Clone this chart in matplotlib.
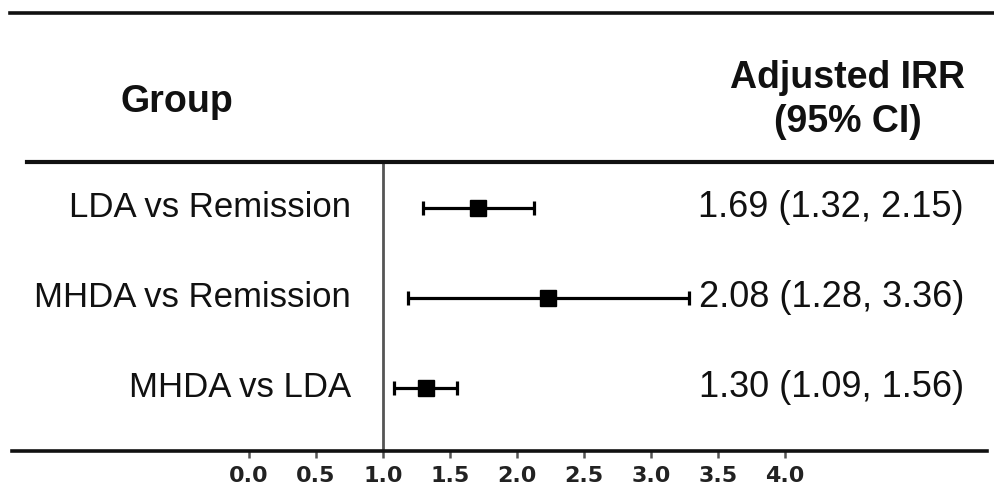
import matplotlib
matplotlib.use("Agg")
import matplotlib.pyplot as plt
from matplotlib.lines import Line2D

groups = ["LDA vs Remission", "MHDA vs Remission", "MHDA vs LDA"]
irr_plot = [1.71, 2.23, 1.32]
ci_low = [1.30, 1.19, 1.08]
ci_high = [2.13, 3.28, 1.55]
irr_text = ["1.69 (1.32, 2.15)", "2.08 (1.28, 3.36)", "1.30 (1.09, 1.56)"]
xticks = [0.0, 0.5, 1.0, 1.5, 2.0, 2.5, 3.0, 3.5, 4.0]
xticklabels = ["0.0", "0.5", "1.0", "1.5", "2.0", "2.5", "3.0", "3.5", "4.0"]

W, H = 994, 487
fig = plt.figure(figsize=(W / 100, H / 100), dpi=100)
plt.rcParams['font.family'] = ['Liberation Sans', 'DejaVu Sans']

def fx(px):
    return px / W

def fy(py):
    return 1 - py / H

# axes spans x pixels 12..987, y pixels 162..451
ax = fig.add_axes([fx(12), fy(451), fx(987) - fx(12), fy(162) - fy(451)])
x0_px, unit_px = 249.0, 134.0
ax.set_xlim((12 - x0_px) / unit_px, (987 - x0_px) / unit_px)
ax.set_ylim(2.7, -0.51)

for s in ["top", "left", "right"]:
    ax.spines[s].set_visible(False)
ax.spines["bottom"].set_linewidth(2.6)
ax.spines["bottom"].set_color("#111111")
ax.set_yticks([])
ax.set_xticks(xticks)
ax.set_xticklabels(xticklabels, fontfamily="DejaVu Sans", fontweight="bold",
                   fontsize=16, color="#222222")
ax.tick_params(axis="x", direction="out", length=5, width=1.8, color="#555555", pad=6)

ax.axvline(1.0, color="#555555", lw=2.0, zorder=1)

ypos = list(range(len(groups)))
xerr = [[m - l for m, l in zip(irr_plot, ci_low)], [h - m for m, h in zip(irr_plot, ci_high)]]
ax.errorbar(irr_plot, ypos, xerr=xerr, fmt="s", color="black", ms=11, lw=2.3,
            capsize=4.8, capthick=2.3, zorder=3)

for i, (g, t) in enumerate(zip(groups, irr_text)):
    yp = ax.transData.transform((0, i))[1] / H
    fig.text(fx(351), yp, g, ha="right", va="center", fontsize=25, color="#111111")
    fig.text(fx(964), yp, t, ha="right", va="center", fontsize=26, color="#111111")

fig.text(fx(177), fy(102), "Group", ha="center", va="center", fontsize=27,
         fontweight="bold", color="#111111")
fig.text(fx(848), fy(100), "Adjusted IRR\n(95% CI)", ha="center", va="center",
         fontsize=27, fontweight="bold", color="#111111", linespacing=1.3)

fig.add_artist(Line2D([fx(10), fx(994)], [fy(13), fy(13)], color="#111111", lw=2.6))
fig.add_artist(Line2D([fx(27), fx(994)], [fy(162), fy(162)], color="#111111", lw=3.0))

fig.savefig("out.png", dpi=100)
